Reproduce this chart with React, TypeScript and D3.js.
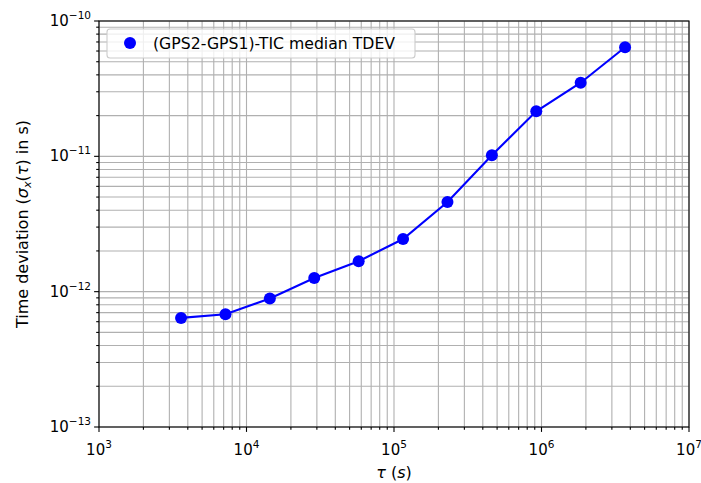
import React, { useEffect, useRef } from "react";
import * as d3 from "d3";

// averaging times (s) and median TDEV (s)
const tauValues = [3600, 7200, 14400, 28800, 57600, 115200, 230400, 460800, 921600, 1843200, 3686400];
const tdevValues = [6.4e-13, 6.8e-13, 8.9e-13, 1.26e-12, 1.68e-12, 2.45e-12, 4.6e-12, 1.02e-11, 2.15e-11, 3.5e-11, 6.4e-11];
const xDecades = [3, 4, 5, 6, 7];
const yDecades = [-13, -12, -11, -10];
const legendLabel = "(GPS2-GPS1)-TIC median TDEV";

const App = () => {
  const svgRef = useRef<SVGSVGElement>(null);

  useEffect(() => {
    const svg = d3.select(svgRef.current);
    svg.selectAll("*").remove();

    const width = 701;
    const height = 483;
    const margin = { top: 21, right: 12, bottom: 56, left: 99 };
    const font = "DejaVu Sans, sans-serif";
    const fs = 15;
    const fsLabel = 16;

    svg.attr("width", width).attr("height", height).style("display", "block");
    svg.append("rect").attr("width", width).attr("height", height).attr("fill", "white");

    const x = d3.scaleLog().domain([1e3, 1e7]).range([margin.left, width - margin.right]);
    const y = d3.scaleLog().domain([1e-13, 1e-10]).range([height - margin.bottom, margin.top]);

    const [x0, x1] = x.range();
    const [y0, y1] = y.range();

    // minor ticks (2..9 per decade)
    const xMinor: number[] = [];
    xDecades.slice(0, -1).forEach((e) => d3.range(2, 10).forEach((m) => xMinor.push(m * 10 ** e)));
    const yMinor: number[] = [];
    yDecades.slice(0, -1).forEach((e) => d3.range(2, 10).forEach((m) => yMinor.push(m * 10 ** e)));
    const xMajor = xDecades.map((e) => 10 ** e);
    const yMajor = yDecades.map((e) => 10 ** e);

    // grid
    const grid = svg.append("g").attr("stroke", "#b0b0b0").attr("stroke-width", 1.1);
    grid.selectAll("line.gx")
      .data([...xMajor, ...xMinor])
      .join("line")
      .attr("x1", (d) => x(d)).attr("x2", (d) => x(d))
      .attr("y1", y0).attr("y2", y1);
    grid.selectAll("line.gy")
      .data([...yMajor, ...yMinor])
      .join("line")
      .attr("class", "gy")
      .attr("y1", (d) => y(d)).attr("y2", (d) => y(d))
      .attr("x1", x0).attr("x2", x1);

    // data line + markers
    const pts = tauValues.map((t, i) => [t, tdevValues[i]] as [number, number]);
    svg.append("path")
      .datum(pts)
      .attr("fill", "none")
      .attr("stroke", "#0000ff")
      .attr("stroke-width", 2.1)
      .attr("d", d3.line<[number, number]>().x((d) => x(d[0])).y((d) => y(d[1])));
    svg.append("g")
      .selectAll("circle")
      .data(pts)
      .join("circle")
      .attr("cx", (d) => x(d[0]))
      .attr("cy", (d) => y(d[1]))
      .attr("r", 6)
      .attr("fill", "#0000ff");

    // frame
    svg.append("rect")
      .attr("x", x0).attr("y", y1)
      .attr("width", x1 - x0).attr("height", y0 - y1)
      .attr("fill", "none").attr("stroke", "black").attr("stroke-width", 1.1);

    // ticks
    const ticks = svg.append("g").attr("stroke", "black").attr("stroke-width", 1.1);
    ticks.selectAll("line.xt")
      .data([...xMajor.map((v) => [v, 4.9]), ...xMinor.map((v) => [v, 2.8])])
      .join("line")
      .attr("x1", (d) => x(d[0])).attr("x2", (d) => x(d[0]))
      .attr("y1", y0).attr("y2", (d) => y0 + d[1]);
    ticks.selectAll("line.yt")
      .data([...yMajor.map((v) => [v, 4.9]), ...yMinor.map((v) => [v, 2.8])])
      .join("line")
      .attr("class", "yt")
      .attr("y1", (d) => y(d[0])).attr("y2", (d) => y(d[0]))
      .attr("x1", x0).attr("x2", (d) => x0 - d[1]);

    // tick labels
    const xl = svg.append("g").attr("font-family", font).attr("font-size", fs).attr("fill", "black");
    xDecades.forEach((e) => {
      const t = xl.append("text").attr("x", x(10 ** e)).attr("y", y0 + 28).attr("text-anchor", "middle");
      t.append("tspan").text("10");
      t.append("tspan").attr("font-size", fs * 0.7).attr("dy", -7).text(String(e));
    });
    yDecades.forEach((e) => {
      const t = xl.append("text").attr("x", x0 - 8).attr("y", y(10 ** e) + 5).attr("text-anchor", "end");
      t.append("tspan").text("10");
      t.append("tspan").attr("font-size", fs * 0.7).attr("dy", -7).text("\u2212" + Math.abs(e));
    });

    // axis labels
    const xlab = svg.append("text")
      .attr("x", (x0 + x1) / 2).attr("y", 478)
      .attr("text-anchor", "middle")
      .attr("font-family", font).attr("font-size", fsLabel);
    xlab.append("tspan").attr("font-style", "italic").text("\u03c4");
    xlab.append("tspan").text(" (");
    xlab.append("tspan").attr("font-style", "italic").text("s");
    xlab.append("tspan").text(")");

    const ylab = svg.append("text")
      .attr("transform", `translate(28, ${(y0 + y1) / 2}) rotate(-90)`)
      .attr("text-anchor", "middle")
      .attr("font-family", font).attr("font-size", fsLabel);
    ylab.append("tspan").text("Time deviation (");
    ylab.append("tspan").attr("font-style", "italic").text("\u03c3");
    ylab.append("tspan").attr("font-style", "italic").attr("font-size", fsLabel * 0.7).attr("dy", 3).text("x");
    ylab.append("tspan").attr("dy", -3).text("(");
    ylab.append("tspan").attr("font-style", "italic").text("\u03c4");
    ylab.append("tspan").text(") in s)");

    // legend
    const lg = svg.append("g");
    lg.append("rect")
      .attr("x", x0 + 8).attr("y", y1 + 8)
      .attr("width", 308).attr("height", 29)
      .attr("rx", 3)
      .attr("fill", "white").attr("fill-opacity", 0.8)
      .attr("stroke", "#cccccc").attr("stroke-width", 1.1);
    lg.append("circle").attr("cx", x0 + 31).attr("cy", y1 + 22).attr("r", 6).attr("fill", "#0000ff");
    lg.append("text")
      .attr("x", x0 + 54).attr("y", y1 + 28)
      .attr("font-family", font).attr("font-size", 15.7)
      .text(legendLabel);
  }, []);

  return <svg ref={svgRef} style={{ position: "absolute", left: 0, top: 0 }} />;
};

export default App;
